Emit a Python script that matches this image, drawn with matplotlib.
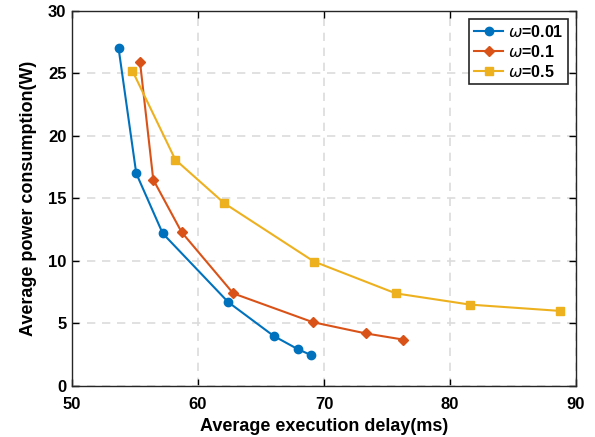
import matplotlib
matplotlib.use("Agg")
import matplotlib.pyplot as plt

plt.rcParams["font.family"] = ["Liberation Sans", "DejaVu Sans"]
plt.rcParams["mathtext.fontset"] = "dejavusans"

# Average execution delay (ms) / average power consumption (W)
delay_001 = [53.7, 55.1, 57.2, 62.4, 66.0, 67.9, 69.0]
power_001 = [27.0, 17.0, 12.2, 6.7, 4.0, 2.95, 2.45]

delay_01 = [55.4, 56.45, 58.7, 62.8, 69.1, 73.3, 76.3]
power_01 = [25.9, 16.5, 12.3, 7.4, 5.1, 4.2, 3.7]

delay_05 = [54.8, 58.2, 62.1, 69.2, 75.7, 81.6, 88.7]
power_05 = [25.2, 18.1, 14.6, 9.95, 7.4, 6.5, 6.0]

labels = [r"$\omega$=0.01", r"$\omega$=0.1", r"$\omega$=0.5"]
colors = ["#0072BD", "#D95319", "#EDB120"]

fig = plt.figure(figsize=(5.95, 4.37), dpi=100)
ax = fig.add_axes([0.121, 0.117, 0.847, 0.858])

ax.plot(delay_001, power_001, color=colors[0], marker="o", markersize=6,
        linewidth=1.5, label=labels[0])
ax.plot(delay_01, power_01, color=colors[1], marker="D", markersize=5.5,
        linewidth=1.5, label=labels[1])
ax.plot(delay_05, power_05, color=colors[2], marker="s", markersize=5.5,
        linewidth=1.5, label=labels[2])

ax.set_xlim(50, 90)
ax.set_ylim(0, 30)
ax.set_xticks(range(50, 91, 10))
ax.set_yticks(range(0, 31, 5))
ax.grid(True, linestyle=(0, (5, 4)), color="#dcdcdc", linewidth=1.2)
ax.tick_params(direction="in", length=5, width=1, labelsize=12,
               top=True, right=True)
ax.tick_params(axis="x", pad=8)
ax.tick_params(axis="y", pad=4)
for lab in ax.get_xticklabels() + ax.get_yticklabels():
    lab.set_fontweight("bold")
for sp in ax.spines.values():
    sp.set_linewidth(1.0)
    sp.set_color("#262626")

ax.set_xlabel("Average execution delay(ms)", fontsize=13, fontweight="bold",
              labelpad=4)
ax.set_ylabel("Average power consumption(W)", fontsize=13, fontweight="bold",
              labelpad=8)

leg = ax.legend(loc="upper right", prop={"weight": "bold", "size": 11.5},
                fancybox=False, framealpha=1, edgecolor="#262626",
                handlelength=1.8, borderpad=0.3, labelspacing=0.25,
                handletextpad=0.3, borderaxespad=0.5)
leg.get_frame().set_linewidth(1.2)

fig.savefig("out.png", dpi=100)
